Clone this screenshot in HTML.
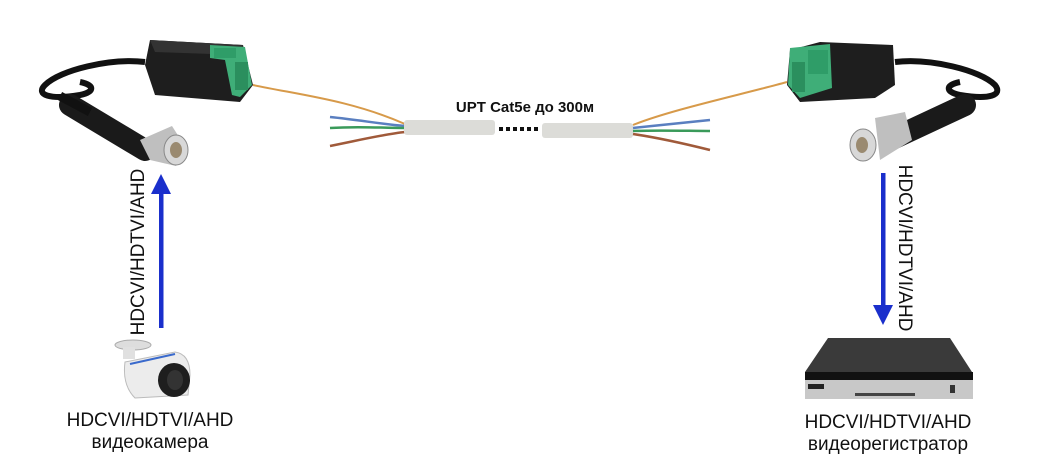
<!DOCTYPE html>
<html><head><meta charset="utf-8"><style>
html,body{margin:0;padding:0;background:#fff;}
svg{display:block}
text{font-family:"Liberation Sans",Arial,sans-serif;}
</style></head><body>
<svg width="1040" height="465" viewBox="0 0 1040 465" xmlns="http://www.w3.org/2000/svg">
<!-- LEFT balun -->
<path d="M145,62 C110,58 60,70 45,85 C35,95 50,100 80,95 C95,92 95,85 80,82" fill="none" stroke="#111" stroke-width="6"/>
<path d="M70,105 L145,150" stroke="#1a1a1a" stroke-width="22" stroke-linecap="round"/>
<path d="M60,96 L90,112" stroke="#111" stroke-width="9"/>
<polygon points="150,40 243,45 253,85 240,102 155,95 145,65" fill="#1e1e1e"/>
<polygon points="150,40 243,45 240,55 155,52" fill="#333"/>
<polygon points="210,45 245,47 252,85 240,97 232,95 225,60 210,58" fill="#3fae78"/>
<rect x="214" y="48" width="22" height="10" fill="#2f9d68"/>
<rect x="235" y="62" width="13" height="28" fill="#2b8f5e"/>
<path d="M140,140 L172,126 L186,148 L176,166 L150,160 Z" fill="#bfbfbf"/>
<ellipse cx="176" cy="150" rx="12" ry="15" fill="#d8d8d8" stroke="#888"/>
<ellipse cx="176" cy="150" rx="6" ry="8" fill="#9a8a70"/>
<path d="M253,85 C300,95 350,100 405,124" fill="none" stroke="#d79a4a" stroke-width="2"/>
<path d="M330,117 C360,120 380,124 405,126" stroke="#5a7fc0" stroke-width="2.5" fill="none"/>
<path d="M330,128 C360,126 380,128 405,128" stroke="#3a9a5a" stroke-width="2.5" fill="none"/>
<path d="M330,146 C360,140 385,134 405,132" stroke="#a05a3a" stroke-width="2.5" fill="none"/>
<rect x="404" y="120" width="91" height="15" rx="3" fill="#dcdcd8"/>
<rect x="542" y="123" width="91" height="15" rx="3" fill="#dcdcd8"/>
<g fill="#111"><rect x="499" y="127" width="4" height="4"/><rect x="506" y="127" width="4" height="4"/><rect x="513" y="127" width="4" height="4"/><rect x="520" y="127" width="4" height="4"/><rect x="527" y="127" width="4" height="4"/><rect x="534" y="127" width="4" height="4"/></g>
<path d="M633,125 C670,110 740,95 787,82" fill="none" stroke="#d79a4a" stroke-width="2"/>
<path d="M633,128 C660,125 690,122 710,120" stroke="#5a7fc0" stroke-width="2.5" fill="none"/>
<path d="M633,131 C660,130 690,131 710,131" stroke="#3a9a5a" stroke-width="2.5" fill="none"/>
<path d="M633,134 C660,138 690,145 710,150" stroke="#a05a3a" stroke-width="2.5" fill="none"/>
<text x="525" y="112" font-size="15" font-weight="bold" text-anchor="middle" fill="#111">UPT Cat5e до 300м</text>
<!-- RIGHT balun -->
<path d="M895,62 C930,58 980,70 995,85 C1003,95 990,100 960,95 C945,92 945,85 960,82" fill="none" stroke="#111" stroke-width="6"/>
<path d="M965,105 L890,140" stroke="#1a1a1a" stroke-width="22" stroke-linecap="round"/>
<polygon points="820,42 893,45 895,85 875,98 800,102 787,85 790,50" fill="#1e1e1e"/>
<polygon points="790,48 830,44 832,88 800,98 788,85" fill="#3fae78"/>
<rect x="808" y="50" width="20" height="24" fill="#2f9d68"/>
<rect x="792" y="62" width="13" height="30" fill="#2b8f5e"/>
<path d="M875,118 L905,112 L912,140 L880,160 Z" fill="#bfbfbf"/>
<ellipse cx="863" cy="145" rx="13" ry="16" fill="#d8d8d8" stroke="#888"/>
<ellipse cx="862" cy="145" rx="6" ry="8" fill="#9a8a70"/>
<!-- arrows -->
<rect x="159" y="190" width="4.5" height="138" fill="#1a2fcc"/>
<polygon points="151,194 171,194 161,174" fill="#1a2fcc"/>
<rect x="881" y="173" width="4.5" height="135" fill="#1a2fcc"/>
<polygon points="873,305 893,305 883,325" fill="#1a2fcc"/>
<text transform="translate(144,252) rotate(-90)" font-size="19" text-anchor="middle" fill="#111">HDCVI/HDTVI/AHD</text>
<text transform="translate(899,248) rotate(90)" font-size="19" text-anchor="middle" fill="#111">HDCVI/HDTVI/AHD</text>
<!-- camera -->
<ellipse cx="133" cy="345" rx="18" ry="5" fill="#ddd" stroke="#aaa"/>
<rect x="123" y="347" width="12" height="12" fill="#e0e0e0"/>
<path d="M125,362 L175,352 Q190,354 190,375 L188,395 L135,398 Q122,385 125,362Z" fill="#ececec" stroke="#bbb"/>
<path d="M130,364 L175,354" stroke="#3a6acc" stroke-width="2"/>
<ellipse cx="174" cy="380" rx="16" ry="17" fill="#1e1e1e"/>
<ellipse cx="175" cy="380" rx="8" ry="10" fill="#333"/>
<text x="150" y="426" font-size="19" text-anchor="middle" fill="#111">HDCVI/HDTVI/AHD</text>
<text x="150" y="448" font-size="19" text-anchor="middle" fill="#111">видеокамера</text>
<!-- DVR -->
<polygon points="828,338 950,338 972,372 805,372" fill="#3a3a3a"/>
<rect x="805" y="372" width="168" height="8" fill="#111"/>
<rect x="805" y="380" width="168" height="19" fill="#c8c8c8"/>
<rect x="808" y="384" width="16" height="5" fill="#222"/>
<rect x="855" y="393" width="60" height="3" fill="#444"/>
<rect x="950" y="385" width="5" height="8" fill="#333"/>
<text x="888" y="428" font-size="19" text-anchor="middle" fill="#111">HDCVI/HDTVI/AHD</text>
<text x="888" y="450" font-size="19" text-anchor="middle" fill="#111">видеорегистратор</text>
</svg>
</body></html>
